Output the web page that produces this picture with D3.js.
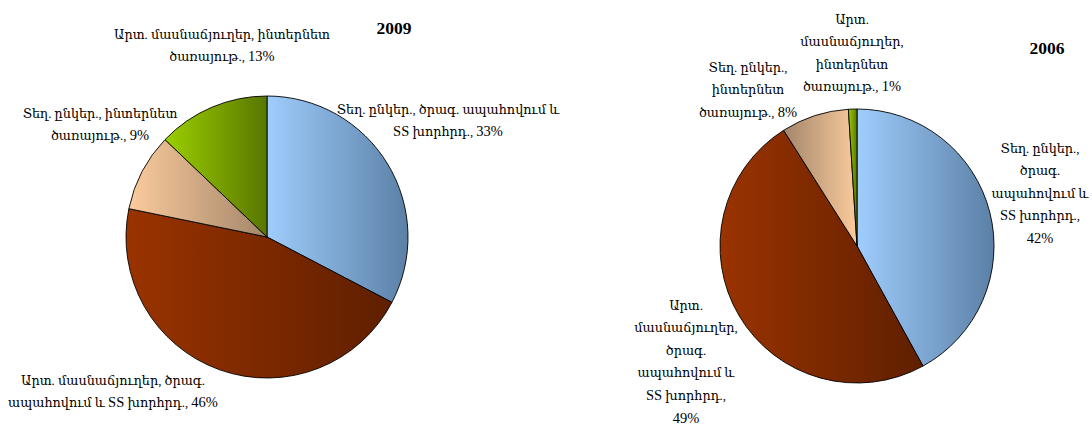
<!DOCTYPE html>
<html>
<head>
<meta charset="utf-8">
<script src="https://cdn.jsdelivr.net/npm/d3@7"></script>
<style>
  body { margin: 0; background: #fff; }
  text { font-family: "Liberation Serif", "DejaVu Serif", serif; fill: #000; }
</style>
</head>
<body>
<div class="container"></div>
<script>
// data
const categories = ['loc_soft', 'for_soft', 'loc_net', 'for_net'];
const values2009 = [33, 46, 9, 13];
const values2006 = [42, 49, 8, 1];
const labels2009 = [
  ['Տեղ. ընկեր., ծրագ. ապահովում և', 'SS խորհրդ., 33%'],
  ['Արտ. մասնաճյուղեր, ծրագ.', 'ապահովում և SS խորհրդ., 46%'],
  ['Տեղ. ընկեր., ինտերնետ', 'ծառայութ., 9%'],
  ['Արտ. մասնաճյուղեր, ինտերնետ', 'ծառայութ., 13%']
];
const labels2006 = [
  ['Տեղ. ընկեր.,', 'ծրագ.', 'ապահովում և', 'SS խորհրդ.,', '42%'],
  ['Արտ.', 'մասնաճյուղեր,', 'ծրագ.', 'ապահովում և', 'SS խորհրդ.,', '49%'],
  ['Տեղ. ընկեր.,', 'ինտերնետ', 'ծառայութ., 8%'],
  ['Արտ.', 'մասնաճյուղեր,', 'ինտերնետ', 'ծառայութ., 1%']
];

const width = 1092;
const height = 425;

// light -> dark colour per category
const colours = {
  loc_soft: ['#9fcdfd', '#5b80a6'],
  for_soft: ['#9a3300', '#5f1f00'],
  loc_net: ['#fbcb9c', '#a3866b'],
  for_net: ['#9bcf00', '#587600']
};

const svg = d3.select('.container')
  .append('svg')
  .attr('width', width)
  .attr('height', height);

const defs = svg.append('defs');

function gradient(id, cat, flip) {
  const g = defs.append('linearGradient')
    .attr('id', id)
    .attr('x1', flip ? 1 : 0).attr('x2', flip ? 0 : 1)
    .attr('y1', 0).attr('y2', 0);
  g.append('stop').attr('offset', '0%').attr('stop-color', colours[cat][0]);
  g.append('stop').attr('offset', '100%').attr('stop-color', colours[cat][1]);
}

// latin letters and digits are a bit bigger in the original font
function writeLine(tspan, line) {
  line.split(/([A-Za-z0-9%]+)/).filter((s) => s.length).forEach((s) => {
    const latin = /^[A-Za-z0-9%]+$/.test(s);
    tspan.append('tspan')
      .attr('font-size', latin ? 14.5 : 12.8)
      .text(s);
  });
}

const pie = d3.pie().sort(null).value((d) => d);

function drawPie(opts) {
  const g = svg.append('g').attr('transform', `translate(${opts.cx},${opts.cy})`);
  const arc = d3.arc().innerRadius(0).outerRadius(opts.r);
  const arcs = pie(opts.values);

  categories.forEach((c) => gradient(`${opts.id}-${c}`, c, opts.flip.includes(c)));

  g.selectAll('path')
    .data(arcs)
    .join('path')
    .attr('d', arc)
    .attr('fill', (d, i) => `url(#${opts.id}-${categories[i]})`)
    .attr('stroke', '#000')
    .attr('stroke-width', 0.9)
    .attr('stroke-linejoin', 'round');

  opts.labels.forEach((lines, i) => {
    const [lx, ly] = opts.labelPos[i];
    const t = svg.append('text')
      .attr('text-anchor', 'middle')
      .attr('font-size', 13);
    lines.forEach((line, j) => {
      const ts = t.append('tspan')
        .attr('x', lx)
        .attr('y', ly + j * 22.6)
        .attr('dy', '0.35em');
      writeLine(ts, line);
    });
  });

  svg.append('text')
    .attr('x', opts.titlePos[0])
    .attr('y', opts.titlePos[1])
    .attr('dy', '0.35em')
    .attr('text-anchor', 'middle')
    .attr('font-size', 17.5)
    .attr('font-weight', 'bold')
    .text(opts.title);
}

drawPie({
  id: 'p2009', title: '2009', values: values2009, labels: labels2009,
  cx: 267, cy: 237, r: 141, flip: [],
  titlePos: [394, 28],
  labelPos: [[448, 109], [113, 380], [100, 113], [222, 34]]
});

drawPie({
  id: 'p2006', title: '2006', values: values2006, labels: labels2006,
  cx: 857, cy: 246, r: 137, flip: ['loc_net'],
  titlePos: [1047, 48],
  labelPos: [[1040, 148], [686, 305], [748, 67], [852, 19]]
});
</script>
</body>
</html>
